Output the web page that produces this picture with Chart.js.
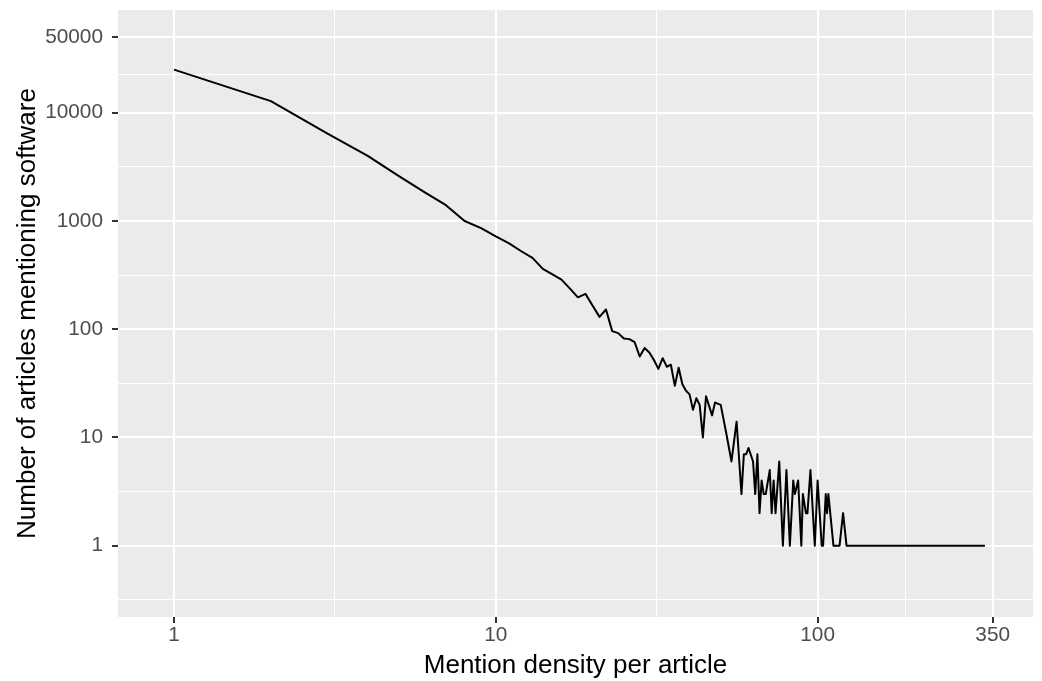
<!DOCTYPE html>
<html>
<head>
<meta charset="utf-8">
<title>Mention density per article</title>
<script src="https://cdn.jsdelivr.net/npm/chart.js@4.4.1/dist/chart.umd.min.js"></script>
<style>
  html, body { margin: 0; padding: 0; background: #ffffff; }
  #wrap { width: 1042px; height: 681px; position: relative; }
</style>
</head>
<body>
<div id="wrap"><canvas id="densityChart"></canvas></div>
<script>
/*************************************************
 * DATA
 *************************************************/
const density = [
  1, 2, 3, 4, 5, 6, 7, 8, 9, 10,
  11, 12, 13, 14, 15, 16, 17, 18, 19, 20,
  21, 22, 23, 24, 25, 26, 27, 28, 29, 30,
  31, 32, 33, 34, 35, 36, 37, 38, 39, 40,
  41, 42, 43, 44, 45, 47, 48, 50, 52, 54,
  56, 58, 59, 60, 61, 63, 64, 65, 66, 67,
  68, 69, 71, 72, 73, 74, 76, 78, 80, 82,
  84, 85, 87, 89, 90, 92, 93, 95, 98, 100,
  103, 104, 106, 107, 108, 112, 117, 120, 123, 331
];

const articles = [
  25000, 12800, 6400, 4000, 2600, 1850, 1400, 1000, 860, 720,
  620, 525, 456, 361, 321, 287, 237, 197, 212, 165,
  130, 152, 96, 92, 82, 81, 76, 56, 67, 61,
  52, 43, 54, 45, 47, 30, 44, 31, 27, 25,
  18, 23, 20, 10, 24, 16, 21, 20, 11, 6,
  14, 3, 7, 7, 8, 6, 3, 7, 2, 4,
  3, 3, 5, 2, 4, 2, 6, 1, 5, 1,
  4, 3, 4, 1, 3, 2, 2, 5, 1, 4,
  1, 1, 3, 2, 3, 1, 1, 2, 1, 1
];

// labelled breaks and the half-decade lines between them
const xBreaks = [1, 10, 100, 350];
const xMinor = [3.162, 31.62, 187.1];
const yBreaks = [1, 10, 100, 1000, 10000, 50000];
const yMinor = [0.3162, 3.162, 31.62, 316.2, 3162, 22360];

/*************************************************
 * STYLE
 *************************************************/
const FONT = "'Liberation Sans', Arial, Helvetica, sans-serif";
const PANEL_BG = "#EBEBEB";
const TICK_TEXT = "#4D4D4D";
const TICK_MARK = "#333333";

/*************************************************
 * HELPERS
 *************************************************/
function isBreak(list, ctx) {
  return !!(ctx.tick && list.includes(ctx.tick.value));
}

function setTicks(values) {
  return (axis) => {
    axis.ticks = values.slice().sort((a, b) => a - b).map(v => ({ value: v }));
  };
}

function gridFor(list) {
  return {
    color: "#FFFFFF",
    lineWidth: (c) => (isBreak(list, c) ? 2 : 1),
    drawTicks: true,
    tickLength: 6,
    tickWidth: 2,
    tickColor: (c) => (isBreak(list, c) ? TICK_MARK : "rgba(0,0,0,0)")
  };
}

// grey panel behind the grid
const panelBackground = {
  id: "panelBackground",
  beforeDraw(chart) {
    const { ctx, chartArea: a } = chart;
    ctx.save();
    ctx.fillStyle = PANEL_BG;
    ctx.fillRect(a.left, a.top, a.right - a.left, a.bottom - a.top);
    ctx.restore();
  }
};

/*************************************************
 * CHART
 *************************************************/
function renderDensity(id) {
  const el = document.getElementById(id);
  if (!el) return;

  const points = density.map((d, i) => ({ x: d, y: articles[i] }));

  new Chart(el, {
    type: "line",
    data: {
      datasets: [{
        data: points,
        borderColor: "#000000",
        borderWidth: 2,
        borderJoinStyle: "round",
        pointRadius: 0,
        tension: 0,
        fill: false
      }]
    },
    options: {
      responsive: true,
      maintainAspectRatio: false,
      animation: false,
      layout: { padding: { top: 10, right: 9, bottom: 0, left: 0 } },
      plugins: {
        legend: { display: false },
        tooltip: { enabled: false }
      },
      scales: {
        x: {
          type: "logarithmic",
          min: 0.6699,
          max: 467,
          afterBuildTicks: setTicks([...xBreaks, ...xMinor]),
          afterFit(axis) {
            axis.height = 64;
            axis.paddingLeft = 0;
            axis.paddingRight = 0;
          },
          border: { display: false },
          grid: gridFor(xBreaks),
          ticks: {
            autoSkip: false,
            maxRotation: 0,
            padding: 0,
            color: TICK_TEXT,
            font: { family: FONT, size: 20.8 },
            callback: (v) => (xBreaks.includes(v) ? String(v) : "")
          },
          title: {
            display: true,
            text: "Mention density per article",
            color: "#000000",
            font: { family: FONT, size: 26 },
            padding: { top: 0, bottom: 0 }
          }
        },
        y: {
          type: "logarithmic",
          min: 0.2195,
          max: 88900,
          afterBuildTicks: setTicks([...yBreaks, ...yMinor]),
          afterFit(axis) {
            axis.width = 118;
            axis.paddingTop = 0;
            axis.paddingBottom = 0;
          },
          border: { display: false },
          grid: gridFor(yBreaks),
          ticks: {
            autoSkip: false,
            padding: 9,
            color: TICK_TEXT,
            font: { family: FONT, size: 20.8 },
            callback: (v) => (yBreaks.includes(v) ? String(v) : "")
          },
          title: {
            display: true,
            text: "Number of articles mentioning software",
            color: "#000000",
            font: { family: FONT, size: 26 },
            padding: { top: 12, bottom: 0 }
          }
        }
      }
    },
    plugins: [panelBackground]
  });
}

document.addEventListener("DOMContentLoaded", () => {
  renderDensity("densityChart");
});
</script>
</body>
</html>
